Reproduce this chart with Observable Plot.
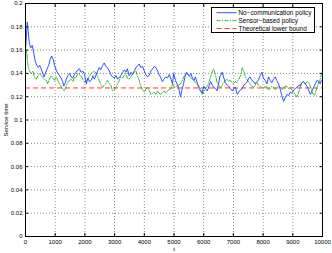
<!DOCTYPE html>
<html>
<head>
<meta charset="utf-8">
<script src="https://cdn.jsdelivr.net/npm/d3@7"></script>
<script src="https://cdn.jsdelivr.net/npm/@observablehq/plot@0.6"></script>
<style>
  html, body { margin: 0; padding: 0; background: #fff; }
  #wrap { position: relative; width: 332px; height: 253px; font-family: "Liberation Sans", Arial, sans-serif; }
  #legend { position: absolute; left: 211px; top: 7px; width: 104px; height: 26px; box-sizing: border-box; border: 1px solid #000; background: #fff; }
  #legend svg { display: block; }
</style>
</head>
<body>
<div id="wrap"></div>
<script>
// ---- data ----
const seriesNames = ["No\u2212communication policy", "Sensor\u2212based policy", "Theoretical lower bound"];
const xTicks = [0, 1000, 2000, 3000, 4000, 5000, 6000, 7000, 8000, 9000, 10000];
const yTicks = [0, 0.02, 0.04, 0.06, 0.08, 0.1, 0.12, 0.14, 0.16, 0.18, 0.2];
const lowerBound = 0.1275;

const noCommT = [0,30,60,90,130,180,230,280,330,380,430,480,530,580,630,680,730,780,830,880,930,980,1030,1090,1150,1200,1250,1290,1340,1370,1430,1480,1540,1590,1650,1700,1760,1820,1870,1930,1990,2050,2100,2150,2210,2270,2320,2380,2430,2480,2530,2600,2650,2700,2760,2820,2870,2930,2990,3050,3100,3160,3210,3270,3330,3380,3430,3490,3550,3600,3660,3720,3780,3830,3880,3940,4000,4050,4100,4160,4220,4280,4340,4390,4450,4500,4560,4610,4660,4720,4780,4840,4900,4950,4990,5050,5100,5150,5220,5270,5320,5370,5420,5470,5520,5570,5620,5670,5720,5780,5830,5890,5950,6000,6060,6120,6180,6230,6290,6340,6400,6450,6500,6540,6590,6620,6680,6730,6790,6840,6900,6960,7010,7070,7130,7180,7240,7300,7350,7410,7470,7520,7560,7620,7680,7730,7790,7840,7900,7960,8010,8070,8130,8180,8240,8290,8350,8410,8460,8520,8580,8630,8690,8740,8800,8860,8910,8960,9020,9080,9140,9200,9250,9300,9360,9420,9480,9530,9590,9650,9700,9760,9810,9870,9920,9960,10000];
const noCommV = [0.160,0.172,0.184,0.176,0.166,0.162,0.164,0.157,0.150,0.147,0.145,0.147,0.144,0.140,0.137,0.141,0.144,0.147,0.152,0.155,0.152,0.147,0.143,0.140,0.138,0.136,0.133,0.129,0.132,0.135,0.138,0.140,0.137,0.136,0.139,0.141,0.143,0.144,0.141,0.142,0.139,0.131,0.136,0.133,0.134,0.138,0.135,0.139,0.142,0.145,0.143,0.147,0.149,0.146,0.145,0.142,0.139,0.137,0.136,0.138,0.135,0.137,0.138,0.141,0.143,0.141,0.144,0.138,0.141,0.139,0.142,0.145,0.147,0.148,0.145,0.146,0.142,0.139,0.137,0.138,0.142,0.144,0.146,0.145,0.142,0.139,0.136,0.133,0.135,0.137,0.136,0.139,0.135,0.131,0.140,0.134,0.131,0.128,0.120,0.126,0.131,0.137,0.141,0.139,0.138,0.140,0.136,0.134,0.137,0.132,0.128,0.125,0.123,0.129,0.127,0.125,0.129,0.133,0.130,0.128,0.127,0.125,0.131,0.137,0.139,0.141,0.136,0.132,0.130,0.129,0.127,0.125,0.127,0.128,0.122,0.124,0.126,0.127,0.130,0.131,0.133,0.136,0.137,0.134,0.133,0.131,0.133,0.134,0.138,0.141,0.136,0.134,0.131,0.137,0.134,0.132,0.135,0.137,0.134,0.131,0.126,0.121,0.116,0.119,0.122,0.121,0.124,0.123,0.125,0.127,0.128,0.130,0.129,0.132,0.133,0.131,0.129,0.126,0.122,0.125,0.128,0.131,0.134,0.133,0.131,0.134,0.135];

const sensorT = [0,20,50,80,130,190,250,300,360,420,470,530,580,640,700,750,800,870,920,980,1030,1090,1140,1180,1220,1270,1310,1370,1420,1480,1540,1600,1650,1700,1760,1810,1870,1930,1990,2050,2100,2160,2210,2270,2320,2380,2430,2480,2530,2600,2650,2700,2760,2820,2870,2930,2990,3040,3100,3160,3200,3260,3320,3380,3430,3490,3540,3600,3660,3720,3770,3830,3880,3940,4000,4060,4110,4170,4220,4280,4330,4390,4440,4500,4560,4610,4670,4720,4780,4840,4890,4950,4990,5050,5100,5160,5220,5280,5330,5390,5440,5500,5560,5610,5670,5720,5780,5840,5890,5950,6000,6060,6120,6180,6230,6290,6340,6400,6450,6510,6570,6620,6680,6730,6790,6840,6900,6960,7010,7070,7120,7180,7240,7300,7350,7410,7450,7500,7560,7620,7680,7730,7790,7840,7900,7960,8010,8070,8130,8180,8240,8290,8350,8410,8460,8520,8580,8630,8690,8740,8800,8860,8910,8960,9020,9080,9140,9200,9250,9300,9360,9420,9480,9530,9590,9640,9690,9730,9780,9810,9870,9920,9960,10000];
const sensorV = [0.150,0.160,0.156,0.147,0.142,0.140,0.142,0.137,0.135,0.138,0.140,0.138,0.137,0.135,0.134,0.131,0.135,0.138,0.136,0.134,0.137,0.134,0.131,0.130,0.128,0.126,0.125,0.129,0.132,0.134,0.135,0.133,0.137,0.136,0.140,0.139,0.138,0.135,0.132,0.134,0.135,0.138,0.140,0.141,0.142,0.140,0.137,0.134,0.131,0.128,0.130,0.131,0.134,0.131,0.130,0.125,0.126,0.128,0.131,0.134,0.137,0.136,0.138,0.140,0.136,0.135,0.137,0.139,0.141,0.142,0.138,0.134,0.129,0.126,0.124,0.127,0.128,0.125,0.122,0.123,0.124,0.122,0.125,0.123,0.122,0.124,0.125,0.123,0.125,0.126,0.127,0.131,0.129,0.128,0.129,0.130,0.131,0.134,0.137,0.139,0.140,0.138,0.137,0.135,0.134,0.132,0.131,0.129,0.127,0.122,0.124,0.127,0.129,0.133,0.137,0.142,0.144,0.138,0.132,0.130,0.128,0.130,0.132,0.134,0.135,0.133,0.134,0.132,0.131,0.133,0.132,0.135,0.138,0.145,0.142,0.137,0.135,0.133,0.131,0.129,0.128,0.130,0.132,0.130,0.129,0.128,0.127,0.129,0.128,0.126,0.127,0.129,0.128,0.126,0.127,0.129,0.128,0.126,0.127,0.129,0.129,0.127,0.128,0.126,0.124,0.122,0.1195,0.124,0.128,0.132,0.133,0.131,0.133,0.132,0.129,0.125,0.122,0.121,0.125,0.128,0.132,0.135,0.139,0.141];

const colors = ["#1f3cff", "#1fb01f", "#ff2020"];

// ---- build ----
const noComm = noCommT.map((t, i) => ({t, v: noCommV[i]}));
const sensor = sensorT.map((t, i) => ({t, v: sensorV[i]}));
const yFmt = d => String(+d.toFixed(2));
const xFmt = d => String(d);
const blank = () => "";

const chart = Plot.plot({
  width: 332,
  height: 253,
  marginLeft: 25,
  marginRight: 10,
  marginTop: 3,
  marginBottom: 17,
  style: {fontFamily: "Liberation Sans, Arial, sans-serif", fontSize: "6px", background: "#fff", color: "#000"},
  x: {domain: [0, 10000]},
  y: {domain: [0, 0.2]},
  marks: [
    Plot.gridX(xTicks, {stroke: "#8a8a8a", strokeOpacity: 1, strokeDasharray: "1,2"}),
    Plot.gridY(yTicks, {stroke: "#8a8a8a", strokeOpacity: 1, strokeDasharray: "1,2"}),
    Plot.ruleY([lowerBound], {stroke: colors[2], strokeWidth: 0.9, strokeDasharray: "5,3"}),
    Plot.lineY(sensor, {x: "t", y: "v", stroke: colors[1], strokeWidth: 0.9, strokeDasharray: "4,1.5,1,1.5"}),
    Plot.lineY(noComm, {x: "t", y: "v", stroke: colors[0], strokeWidth: 0.9}),
    Plot.frame({stroke: "#000", strokeWidth: 1}),
    Plot.axisX(xTicks, {anchor: "bottom", tickSize: 0, tickPadding: 3, tickFormat: xFmt, label: "t", labelAnchor: "center", labelArrow: "none"}),
    Plot.axisY(yTicks, {anchor: "left", tickSize: 0, tickPadding: 3, tickFormat: yFmt, label: "Service time", labelAnchor: "center", labelArrow: "none"}),
    Plot.axisX(xTicks, {anchor: "bottom", tickSize: -3, tickFormat: blank, label: null}),
    Plot.axisX(xTicks, {anchor: "top", tickSize: -3, tickFormat: blank, label: null}),
    Plot.axisY(yTicks, {anchor: "left", tickSize: -3, tickFormat: blank, label: null}),
    Plot.axisY(yTicks, {anchor: "right", tickSize: -3, tickFormat: blank, label: null})
  ]
});

const wrap = document.getElementById("wrap");
wrap.appendChild(chart);

// legend overlay
const legend = document.createElement("div");
legend.id = "legend";
const ns = "http://www.w3.org/2000/svg";
const svg = document.createElementNS(ns, "svg");
svg.setAttribute("width", 102);
svg.setAttribute("height", 24);
const dashes = [null, "4,1.5,1,1.5", "5,3"];
seriesNames.forEach((name, i) => {
  const y = 4.7 + i * 7.9;
  const ln = document.createElementNS(ns, "line");
  ln.setAttribute("x1", 4.5); ln.setAttribute("x2", 24.5);
  ln.setAttribute("y1", y); ln.setAttribute("y2", y);
  ln.setAttribute("stroke", colors[i]);
  ln.setAttribute("stroke-width", 0.9);
  if (dashes[i]) ln.setAttribute("stroke-dasharray", dashes[i]);
  svg.appendChild(ln);
  const tx = document.createElementNS(ns, "text");
  tx.setAttribute("x", 26.5);
  tx.setAttribute("y", y + 2.1);
  tx.setAttribute("font-size", "6.4px");
  tx.setAttribute("font-family", "Liberation Sans, Arial, sans-serif");
  tx.setAttribute("fill", "#000");
  tx.textContent = name;
  svg.appendChild(tx);
});
legend.appendChild(svg);
wrap.appendChild(legend);
</script>
</body>
</html>
